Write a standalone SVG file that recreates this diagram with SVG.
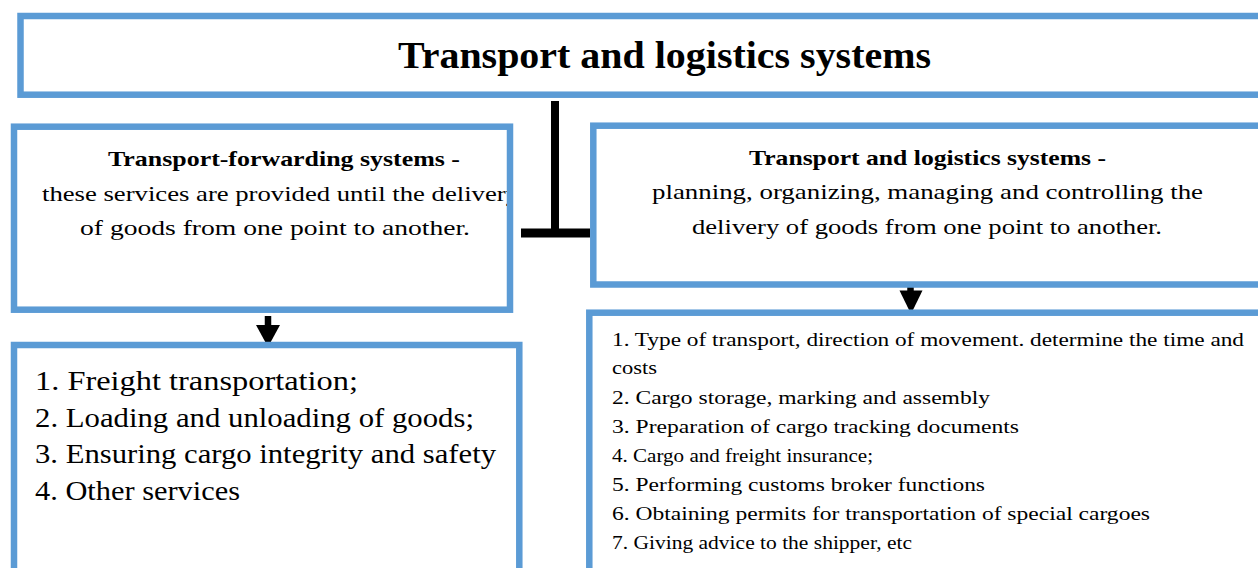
<svg xmlns="http://www.w3.org/2000/svg" width="1258" height="568" viewBox="0 0 1258 568">
  <style>
    .box { fill: #ffffff; stroke: #5b9bd5; stroke-width: 6.5; }
    .t { font-family: "Liberation Serif", "Times New Roman", serif; fill: #000000; }
    .title { font-size: 38px; font-weight: bold; }
    .head { font-size: 21px; font-weight: bold; }
    .body { font-size: 22px; }
    .listL { font-size: 27px; }
    .listR { font-size: 19px; }
    .conn { stroke: #000000; fill: none; }
  </style>
  <defs>
    <clipPath id="clipLeft">
      <rect x="17" y="130" width="490" height="176"/>
    </clipPath>
  </defs>
  <rect width="1258" height="568" fill="#ffffff"/>

  <!-- top header -->
  <g id="node-main">
    <rect class="box" x="20.5" y="16" width="1260" height="78.7"/>
    <text class="t title" x="398" y="68" textLength="533" lengthAdjust="spacingAndGlyphs">Transport and logistics systems</text>
  </g>

  <!-- connectors -->
  <g id="connectors">
    <line class="conn" x1="555" y1="101" x2="555" y2="237" stroke-width="8"/>
    <line class="conn" x1="521" y1="233" x2="590" y2="233" stroke-width="9"/>
    <line class="conn" x1="268" y1="316" x2="268" y2="327" stroke-width="6.5"/>
    <polygon points="256,325 280,325 268,347" fill="#000000"/>
    <line class="conn" x1="910.5" y1="285" x2="910.5" y2="292" stroke-width="6.5"/>
    <polygon points="899.5,290.5 922.5,290.5 911,314" fill="#000000"/>
  </g>

  <!-- forwarding systems -->
  <g id="node-forwarding">
    <rect class="box" x="14" y="126.7" width="496" height="183"/>
    <text class="t head" x="108" y="166" textLength="352" lengthAdjust="spacingAndGlyphs">Transport-forwarding systems -</text>
    <g clip-path="url(#clipLeft)">
      <text class="t body" x="42" y="201" textLength="477" lengthAdjust="spacingAndGlyphs">these services are provided until the delivery</text>
    </g>
    <text class="t body" x="80" y="235" textLength="390" lengthAdjust="spacingAndGlyphs">of goods from one point to another.</text>
  </g>

  <!-- logistics systems -->
  <g id="node-logistics">
    <rect class="box" x="593.3" y="125.7" width="700" height="158.8"/>
    <text class="t head" x="749" y="165" textLength="357" lengthAdjust="spacingAndGlyphs">Transport and logistics systems -</text>
    <text class="t body" x="652" y="199" textLength="551" lengthAdjust="spacingAndGlyphs">planning, organizing, managing and controlling the</text>
    <text class="t body" x="692" y="234" textLength="470" lengthAdjust="spacingAndGlyphs">delivery of goods from one point to another.</text>
  </g>

  <!-- forwarding services -->
  <g id="node-forwarding-list">
    <rect class="box" x="14" y="345" width="505.3" height="260"/>
    <text class="t listL" x="35" y="390" textLength="323" lengthAdjust="spacingAndGlyphs">1. Freight transportation;</text>
    <text class="t listL" x="35" y="427" textLength="439" lengthAdjust="spacingAndGlyphs">2. Loading and unloading of goods;</text>
    <text class="t listL" x="35" y="463" textLength="461" lengthAdjust="spacingAndGlyphs">3. Ensuring cargo integrity and safety</text>
    <text class="t listL" x="35" y="500" textLength="205" lengthAdjust="spacingAndGlyphs">4. Other services</text>
  </g>

  <!-- logistics services -->
  <g id="node-logistics-list">
    <rect class="box" x="589.3" y="312.7" width="700" height="300"/>
    <text class="t listR" x="612" y="346" textLength="632" lengthAdjust="spacingAndGlyphs">1. Type of transport, direction of movement. determine the time and</text>
    <text class="t listR" x="612" y="374" textLength="45" lengthAdjust="spacingAndGlyphs">costs</text>
    <text class="t listR" x="612" y="404" textLength="378" lengthAdjust="spacingAndGlyphs">2. Cargo storage, marking and assembly</text>
    <text class="t listR" x="612" y="433" textLength="407" lengthAdjust="spacingAndGlyphs">3. Preparation of cargo tracking documents</text>
    <text class="t listR" x="612" y="462" textLength="261" lengthAdjust="spacingAndGlyphs">4. Cargo and freight insurance;</text>
    <text class="t listR" x="612" y="491" textLength="373" lengthAdjust="spacingAndGlyphs">5. Performing customs broker functions</text>
    <text class="t listR" x="612" y="520" textLength="538" lengthAdjust="spacingAndGlyphs">6. Obtaining permits for transportation of special cargoes</text>
    <text class="t listR" x="612" y="549" textLength="300" lengthAdjust="spacingAndGlyphs">7. Giving advice to the shipper, etc</text>
  </g>
</svg>
